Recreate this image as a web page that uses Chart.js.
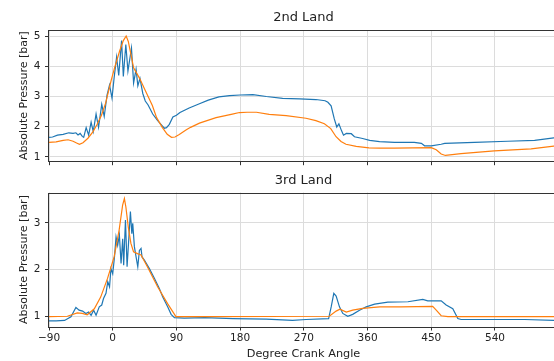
<!DOCTYPE html>
<html>
<head>
<meta charset="utf-8">
<script src="https://cdn.jsdelivr.net/npm/chart.js@4"></script>
<style>
  html, body { margin: 0; padding: 0; background: #fff; overflow: hidden; width: 554px; height: 361px; }
  canvas { position: absolute; left: 0; }
  #land2Chart { top: 0; }
  #land3Chart { top: 172px; }
</style>
</head>
<body>
<canvas id="land2Chart" width="558" height="172"></canvas>
<canvas id="land3Chart" width="558" height="189"></canvas>
<script>
// 크랭크 각도 눈금
var angleTicks = [-90, 0, 90, 180, 270, 360, 450, 540];
var land2YTicks = [1, 2, 3, 4, 5];
var land3YTicks = [1, 2, 3];

// 2nd Land - 측정값 (파란색)
var land2BlueAngle = [-90, -85, -78, -70, -62, -56, -52, -49, -46, -43, -41, -37.5, -34, -30.5, -27.5, -23.5, -20, -15.5, -12, -8, -4.5, -1, 2, 5.5, 8.5, 12.5, 15, 18.5, 21.5, 26.5, 29.5, 33, 35.5, 38.5, 42.5, 46, 50, 56.5, 63.5, 70, 73, 76, 80, 85, 90, 95, 108, 122.5, 135, 150, 165, 180, 198, 217, 240, 264, 287, 300, 304, 308.5, 313, 316.5, 319.5, 323, 326, 330, 337, 341.5, 353, 363, 377, 398, 426, 436, 440.5, 450, 464, 469, 511, 558, 596, 623, 629];
var land2BlueP = [1.65, 1.66, 1.72, 1.75, 1.80, 1.78, 1.80, 1.73, 1.78, 1.68, 1.65, 1.97, 1.72, 2.15, 1.84, 2.42, 1.98, 2.74, 2.34, 3.05, 3.38, 2.95, 3.62, 4.3, 3.7, 4.85, 3.66, 4.72, 3.84, 4.6, 3.45, 3.9, 3.35, 3.6, 3.1, 2.85, 2.72, 2.42, 2.2, 2.03, 1.95, 1.97, 2.08, 2.32, 2.38, 2.47, 2.62, 2.76, 2.88, 2.99, 3.03, 3.05, 3.06, 3.0, 2.94, 2.92, 2.9, 2.86, 2.81, 2.69, 2.26, 1.99, 2.1, 1.88, 1.72, 1.78, 1.77, 1.67, 1.61, 1.55, 1.51, 1.48, 1.48, 1.45, 1.37, 1.37, 1.42, 1.45, 1.48, 1.52, 1.55, 1.63, 1.64];

// 2nd Land - 계산값 (주황색)
var land2OrangeAngle = [-90, -80, -70, -63, -56, -51, -47, -42, -35, -28, -22, -16, -10, -6.5, -2, 3, 10, 15, 19, 22, 26.5, 29.5, 38, 45, 50, 56, 62, 70, 77, 83, 88, 94, 104, 110, 122.5, 146, 169, 179, 190, 203, 221, 245, 273, 287, 299, 308, 315.5, 322.5, 329.5, 344, 362, 377, 398, 450, 457, 464, 470, 492, 539, 591, 623, 629];
var land2OrangeP = [1.48, 1.5, 1.55, 1.57, 1.52, 1.46, 1.42, 1.47, 1.62, 1.83, 2.08, 2.37, 2.78, 3.12, 3.55, 3.98, 4.52, 4.85, 5.0, 4.82, 4.3, 3.95, 3.6, 3.25, 3.0, 2.7, 2.3, 1.98, 1.75, 1.65, 1.66, 1.74, 1.9, 1.98, 2.12, 2.3, 2.42, 2.47, 2.48, 2.48, 2.41, 2.37, 2.28, 2.2, 2.1, 1.94, 1.67, 1.51, 1.42, 1.35, 1.3, 1.29, 1.29, 1.31, 1.24, 1.1, 1.05, 1.11, 1.2, 1.27, 1.36, 1.37];

// 3rd Land - 측정값 (파란색)
var land3BlueAngle = [-90, -80, -68, -59, -52, -47.5, -42.5, -38, -34, -30.5, -27, -23.5, -19, -15.5, -13, -9.5, -7, -4.5, -2.5, 0, 2.5, 4.7, 7, 9.4, 11.8, 14.1, 15.5, 18, 20.3, 22.6, 25, 27, 28.3, 30.6, 33, 35.4, 37.7, 40, 41.4, 44.7, 51.8, 59, 66, 70.7, 77.8, 82.5, 87.2, 101, 130, 170, 217, 254, 273, 305, 308.6, 312.3, 315.6, 320.3, 325, 332, 339, 348.6, 358, 370, 388.6, 417, 438, 445, 464, 471, 480.4, 487.5, 492, 539, 582, 623, 629];
var land3BlueP = [0.9, 0.9, 0.91, 0.99, 1.19, 1.13, 1.11, 1.06, 1.09, 1.02, 1.13, 1.02, 1.2, 1.24, 1.38, 1.49, 1.74, 1.63, 2.02, 1.91, 2.27, 2.7, 2.52, 2.74, 2.13, 2.66, 2.09, 3.06, 2.06, 2.63, 3.24, 2.77, 2.99, 2.49, 2.27, 2.06, 2.41, 2.45, 2.27, 2.2, 2.02, 1.81, 1.59, 1.41, 1.2, 1.04, 0.97, 0.96, 0.97, 0.95, 0.94, 0.91, 0.93, 0.95, 1.2, 1.49, 1.43, 1.2, 1.06, 1.0, 1.04, 1.13, 1.2, 1.26, 1.3, 1.31, 1.36, 1.33, 1.33, 1.24, 1.16, 0.95, 0.93, 0.93, 0.93, 0.91, 0.91];

// 3rd Land - 계산값 (주황색)
var land3OrangeAngle = [-90, -64, -50, -43, -36, -26, -17, -7.3, 2, 9, 14, 16.5, 18.6, 22, 25.7, 29.4, 35, 40, 49, 63.4, 77.5, 89.3, 130, 306, 315.6, 321, 330, 339, 353, 377, 407, 452, 457, 464, 473.5, 629];
var land3OrangeP = [0.99, 1.0, 1.07, 1.06, 1.03, 1.16, 1.41, 1.81, 2.27, 2.84, 3.38, 3.52, 3.34, 2.91, 2.56, 2.38, 2.34, 2.31, 2.06, 1.63, 1.27, 0.99, 0.99, 1.0, 1.11, 1.15, 1.09, 1.13, 1.17, 1.2, 1.2, 1.21, 1.13, 1.01, 0.99, 0.99];

var fontFamily = "'DejaVu Sans', sans-serif";

// x, y 배열을 {x, y} 점 목록으로 변환
function toPoints(xs, ys) {
    return xs.map(function(x, i) { return { x: x, y: ys[i] }; });
}

// 음수 눈금에 유니코드 마이너스 사용
function angleLabel(v) {
    return v < 0 ? '\u2212' + Math.abs(v) : String(v);
}

// 플롯 영역 테두리(스파인) 그리기
var spinePlugin = {
    id: 'spines',
    afterDraw: function(chart) {
        var a = chart.chartArea;
        var ctx = chart.ctx;
        ctx.save();
        ctx.strokeStyle = '#333';
        ctx.lineWidth = 1;
        ctx.strokeRect(Math.round(a.left) - 0.5, Math.round(a.top) + 0.5, Math.round(a.right - a.left), Math.round(a.bottom - a.top));
        ctx.restore();
    }
};

// 차트 하나 생성
function makeChart(id, cfg) {
    var ctx = document.getElementById(id).getContext('2d');
    return new Chart(ctx, {
        type: 'line',
        data: {
            datasets: [{
                label: 'Measured',
                data: toPoints(cfg.blueX, cfg.blueY),
                borderColor: '#1f77b4',
                borderWidth: 1.2,
                pointRadius: 0,
                tension: 0,
                order: 2
            }, {
                label: 'Simulated',
                data: toPoints(cfg.orangeX, cfg.orangeY),
                borderColor: '#ff7f0e',
                borderWidth: 1.2,
                pointRadius: 0,
                tension: 0,
                order: 1
            }]
        },
        options: {
            responsive: false,
            animation: false,
            layout: { padding: 0 },
            plugins: {
                legend: { display: false },
                tooltip: { enabled: false },
                title: {
                    display: true,
                    text: cfg.title,
                    fullSize: false,
                    color: '#222',
                    font: { family: fontFamily, size: 13, weight: 'normal', lineHeight: 1.2 },
                    padding: cfg.titlePadding
                }
            },
            scales: {
                x: {
                    type: 'linear',
                    min: -90,
                    max: 629,
                    afterBuildTicks: function(scale) {
                        scale.ticks = angleTicks.map(function(v) { return { value: v }; });
                    },
                    afterFit: function(scale) { scale.height = cfg.xHeight; },
                    border: { display: false },
                    grid: { color: '#dcdcdc', lineWidth: 1, tickLength: 4, tickColor: '#333' },
                    ticks: {
                        display: cfg.showX,
                        callback: angleLabel,
                        color: '#222',
                        padding: 1,
                        maxRotation: 0,
                        font: { family: fontFamily, size: 10.5 }
                    },
                    title: {
                        display: cfg.showX,
                        text: 'Degree Crank Angle',
                        color: '#222',
                        padding: { top: 0, bottom: 0 },
                        font: { family: fontFamily, size: 11.3, lineHeight: 1.2 }
                    }
                },
                y: {
                    type: 'linear',
                    min: cfg.yMin,
                    max: cfg.yMax,
                    afterBuildTicks: function(scale) {
                        scale.ticks = cfg.yTicks.map(function(v) { return { value: v }; });
                    },
                    afterFit: function(scale) { scale.width = 49; },
                    border: { display: false },
                    grid: { color: '#dcdcdc', lineWidth: 1, tickLength: 4, tickColor: '#333' },
                    ticks: {
                        color: '#222',
                        padding: 4.5,
                        font: { family: fontFamily, size: 10.5 }
                    },
                    title: {
                        display: true,
                        text: 'Absolute Pressure [bar]',
                        color: '#222',
                        padding: { top: 17.9, bottom: 0 },
                        font: { family: fontFamily, size: 11, lineHeight: 1.2 }
                    }
                }
            }
        },
        plugins: [spinePlugin]
    });
}

makeChart('land2Chart', {
    title: '2nd Land',
    titlePadding: { top: 10.2, bottom: 4.2 },
    blueX: land2BlueAngle, blueY: land2BlueP,
    orangeX: land2OrangeAngle, orangeY: land2OrangeP,
    yMin: 0.86, yMax: 5.2, yTicks: land2YTicks,
    showX: false, xHeight: 7.5
});

makeChart('land3Chart', {
    title: '3rd Land',
    titlePadding: { top: 1.2, bottom: 3.7 },
    blueX: land3BlueAngle, blueY: land3BlueP,
    orangeX: land3OrangeAngle, orangeY: land3OrangeP,
    yMin: 0.78, yMax: 3.65, yTicks: land3YTicks,
    showX: true, xHeight: 34.5
});
</script>
</body>
</html>
